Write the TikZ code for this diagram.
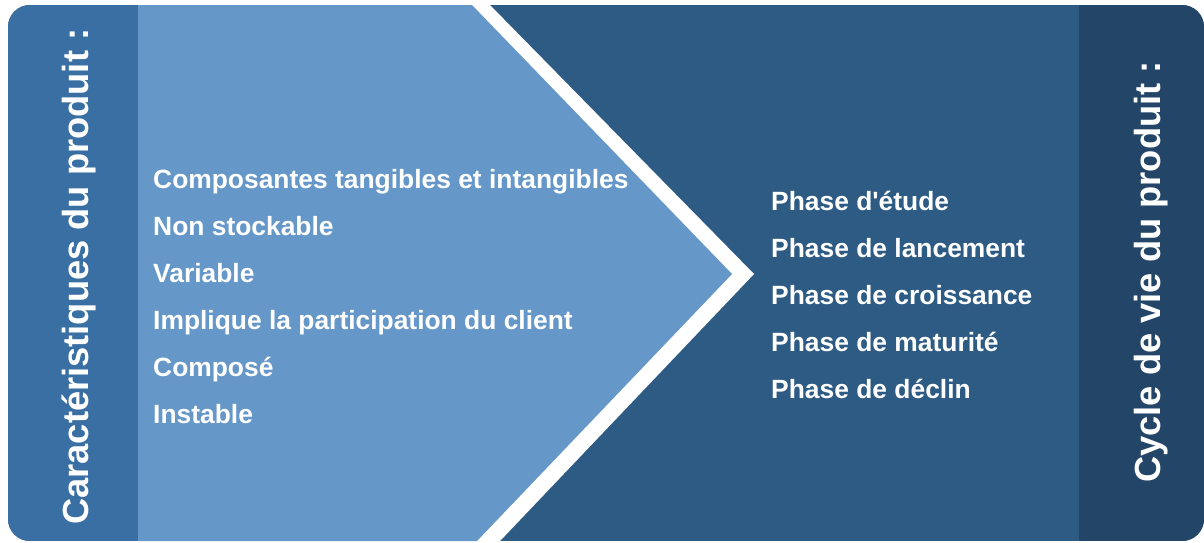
\documentclass[tikz,border=0pt]{standalone}
\usepackage{fontspec}
\setmainfont{Liberation Sans}
\definecolor{stripL}{HTML}{3A6FA3}
\definecolor{chevron}{HTML}{6597C8}
\definecolor{panel}{HTML}{2E5B84}
\definecolor{stripR}{HTML}{234567}
\tikzset{
  item/.style={anchor=base west, inner sep=0pt, text=white,
    font=\bfseries\fontsize{26.4}{30}\selectfont},
  sidetitle/.style={anchor=base west, inner sep=0pt, text=white, rotate=90,
    font=\bfseries\fontsize{36.3}{40}\selectfont}
}
\begin{document}
\begin{tikzpicture}[x=1pt,y=-1pt]
\useasboundingbox (0,0) rectangle (1204,542);
\begin{scope}
  \clip[rounded corners=22pt] (8,5) rectangle (1204,541);
  % background panel
  \fill[panel] (8,5) rectangle (1204,541);
  % left and right title strips
  \fill[stripL] (8,5) rectangle (138,541);
  \fill[stripR] (1079,5) rectangle (1204,541);
  % white band around the chevron
  \fill[white] (138,5) -- (490,5) -- (754,274) -- (500,541) -- (138,541) -- cycle;
  % chevron
  \fill[chevron] (138,5) -- (472,5) -- (732,274) -- (477,541) -- (138,541) -- cycle;
\end{scope}
% side titles
\node[sidetitle] (tl) at (88.5,525) {Caractéristiques du produit :};
\node[sidetitle] (tr) at (1160,483) {Cycle de vie du produit :};
% product characteristics
\node[item] (c1) at (153,188) {Composantes tangibles et intangibles};
\node[item] (c2) at (153,235) {Non stockable};
\node[item] (c3) at (153,282) {Variable};
\node[item] (c4) at (153,329) {Implique la participation du client};
\node[item] (c5) at (153,376) {Composé};
\node[item] (c6) at (153,423) {Instable};
% life-cycle phases
\node[item] (p1) at (771,210) {Phase d\textquotesingle étude};
\node[item] (p2) at (771,257) {Phase de lancement};
\node[item] (p3) at (771,304) {Phase de croissance};
\node[item] (p4) at (771,351) {Phase de maturité};
\node[item] (p5) at (771,398) {Phase de déclin};
\end{tikzpicture}
\end{document}
